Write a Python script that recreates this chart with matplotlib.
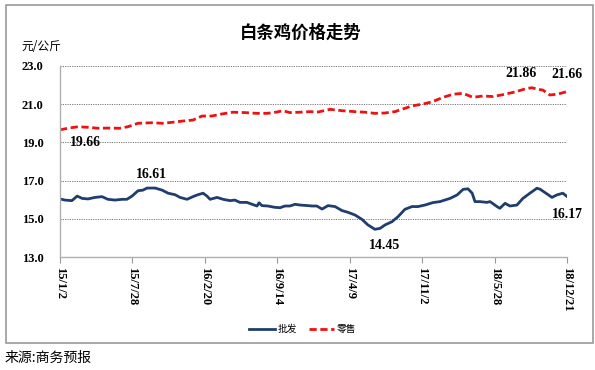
import matplotlib
matplotlib.use("Agg")
import matplotlib.pyplot as plt
import matplotlib.dates as mdates
from matplotlib.patches import Rectangle
import pandas as pd

plt = matplotlib.pyplot

# 零售 (retail)
retail_dates = [
    "2015-01-02", "2015-01-25", "2015-02-22", "2015-03-23", "2015-04-21", "2015-05-19",
    "2015-06-22", "2015-07-15", "2015-08-13", "2015-09-22", "2015-10-21", "2015-11-18",
    "2015-12-20", "2016-01-17", "2016-02-12", "2016-03-11", "2016-04-09", "2016-05-10",
    "2016-06-14", "2016-07-18", "2016-08-16", "2016-09-13", "2016-09-30", "2016-10-20",
    "2016-11-18", "2016-12-17", "2017-01-08", "2017-02-12", "2017-03-18", "2017-04-24",
    "2017-05-23", "2017-06-20", "2017-07-19", "2017-08-16", "2017-09-05", "2017-10-04",
    "2017-11-02", "2017-11-30", "2018-01-01", "2018-01-29", "2018-02-27", "2018-03-27",
    "2018-04-25", "2018-05-24", "2018-06-21", "2018-07-25", "2018-08-29", "2018-09-12",
    "2018-09-29", "2018-10-13", "2018-11-02", "2018-11-25", "2018-12-21",
]
retail = [
    19.66, 19.74, 19.82, 19.79, 19.74, 19.75,
    19.74, 19.82, 20.00, 20.03, 20.00, 20.05,
    20.12, 20.17, 20.38, 20.38, 20.49, 20.58,
    20.56, 20.52, 20.52, 20.59, 20.66, 20.56,
    20.58, 20.61, 20.59, 20.73, 20.66, 20.61,
    20.58, 20.52, 20.54, 20.61, 20.73, 20.91,
    21.00, 21.12, 21.36, 21.52, 21.57, 21.36,
    21.43, 21.40, 21.50, 21.64, 21.83, 21.86,
    21.78, 21.74, 21.48, 21.53, 21.66,
]

# 批发 (wholesale)
wholesale_dates = [
    "2015-01-02", "2015-01-16", "2015-02-05", "2015-02-20", "2015-03-06", "2015-03-23",
    "2015-04-12", "2015-05-02", "2015-05-19", "2015-06-08", "2015-06-28", "2015-07-12",
    "2015-07-27", "2015-08-13", "2015-08-27", "2015-09-08", "2015-10-01", "2015-10-21",
    "2015-11-07", "2015-11-27", "2015-12-11", "2015-12-31", "2016-01-17", "2016-01-31",
    "2016-02-15", "2016-02-26", "2016-03-06", "2016-03-26", "2016-04-12", "2016-05-02",
    "2016-05-16", "2016-05-30", "2016-06-19", "2016-07-04", "2016-07-18", "2016-07-24",
    "2016-08-01", "2016-08-18", "2016-09-07", "2016-09-22", "2016-10-06", "2016-10-20",
    "2016-11-04", "2016-11-18", "2016-12-11", "2016-12-22", "2017-01-05", "2017-01-20",
    "2017-02-06", "2017-02-26", "2017-03-18", "2017-04-04", "2017-04-24", "2017-05-14",
    "2017-05-31", "2017-06-20", "2017-07-05", "2017-07-19", "2017-08-08", "2017-08-25",
    "2017-09-14", "2017-10-04", "2017-10-21", "2017-11-10", "2017-12-03", "2017-12-23",
    "2018-01-21", "2018-02-10", "2018-02-27", "2018-03-13", "2018-03-25", "2018-04-02",
    "2018-04-16", "2018-05-06", "2018-05-15", "2018-06-04", "2018-06-12", "2018-06-27",
    "2018-07-11", "2018-07-31", "2018-08-17", "2018-09-06", "2018-09-26", "2018-10-05",
    "2018-10-25", "2018-11-08", "2018-11-22", "2018-12-09", "2018-12-21",
]
wholesale = [
    16.04, 15.98, 15.95, 16.19, 16.07, 16.04,
    16.12, 16.16, 16.02, 15.98, 16.02, 16.02,
    16.19, 16.47, 16.50, 16.61, 16.61, 16.50,
    16.34, 16.26, 16.12, 16.02, 16.16, 16.26,
    16.34, 16.19, 16.02, 16.12, 16.02, 15.95,
    15.98, 15.86, 15.86, 15.76, 15.67, 15.84,
    15.69, 15.67, 15.60, 15.58, 15.67, 15.67,
    15.76, 15.72, 15.69, 15.67, 15.67, 15.51,
    15.69, 15.64, 15.43, 15.34, 15.20, 14.97,
    14.68, 14.45, 14.50, 14.68, 14.85, 15.11,
    15.50, 15.64, 15.64, 15.72, 15.85, 15.90,
    16.07, 16.25, 16.54, 16.57, 16.34, 15.90,
    15.90, 15.86, 15.90, 15.64, 15.55, 15.81,
    15.67, 15.72, 16.07, 16.34, 16.60, 16.55,
    16.30, 16.12, 16.25, 16.34, 16.17,
]

tick_dates = ["2015-01-02", "2015-07-28", "2016-02-20", "2016-09-14",
              "2017-04-09", "2017-11-02", "2018-05-28", "2018-12-21"]
tick_labels = ["15/1/2", "15/7/28", "16/2/20", "16/9/14",
               "17/4/9", "17/11/2", "18/5/28", "18/12/21"]
y_ticks = [13.0, 15.0, 17.0, 19.0, 21.0, 23.0]

# (date, value, label) callouts
callouts = [
    ("2015-01-02", 19.66, "19.66"),
    ("2015-09-20", 16.61, "16.61"),
    ("2017-06-20", 14.45, "14.45"),
    ("2018-12-21", 16.17, "16.17"),
    ("2018-09-12", 21.86, "21.86"),
    ("2018-12-21", 21.66, "21.66"),
]

CJK = ["Noto Sans CJK SC", "DejaVu Sans"]
SERIF = "Liberation Serif"
BLUE = "#1f3d6e"
RED = "#ee1111"

W, H = 595, 370
fig = plt.figure(figsize=(W / 100, H / 100), dpi=100)
ax = fig.add_axes([60 / W, 1 - 257 / H, (567 - 60) / W, (257 - 66) / H])

rd = pd.to_datetime(retail_dates)
wd = pd.to_datetime(wholesale_dates)
ax.plot(wd, wholesale, color=BLUE, lw=2.0, label="批发", solid_joinstyle="round")
ax.plot(rd, retail, color=RED, lw=2.0, dashes=(2.6, 1.3), label="零售")

ax.set_ylim(13, 23)
ax.set_xlim(pd.Timestamp(tick_dates[0]), pd.Timestamp(tick_dates[-1]))
ax.set_yticks(y_ticks)
ax.set_yticklabels(["%.1f" % v for v in y_ticks], fontfamily=SERIF,
                   fontweight="bold", fontsize=9)
ax.set_xticks(pd.to_datetime(tick_dates))
ax.set_xticklabels(tick_labels, rotation=-90, fontfamily=SERIF,
                   fontweight="bold", fontsize=9, va="top", ha="center")
ax.tick_params(axis="y", length=0, pad=12)
ax.tick_params(axis="x", length=4, color="#999999", pad=3)

for v in y_ticks[1:]:
    ax.axhline(v, color="#777777", lw=0.7, ls=(0, (1.2, 1.2)), zorder=0)

for s in ("top", "right"):
    ax.spines[s].set_visible(False)
for s in ("left", "bottom"):
    ax.spines[s].set_color("#b0b0b0")
    ax.spines[s].set_linewidth(1.0)

offsets = {"19.66": (18, -9), "16.61": (0, 10), "14.45": (7, -12),
           "16.17": (0, -13), "21.86": (-8, 10), "21.66": (0, 12)}
for d, v, lab in callouts:
    dx, dy = offsets[lab]
    ax.annotate(lab, (pd.Timestamp(d), v), xytext=(dx, dy), textcoords="offset points",
                ha="center", va="center", fontfamily=SERIF, fontweight="bold",
                fontsize=10, annotation_clip=False)

fig.text(301 / W, 1 - 33 / H, "白条鸡价格走势", ha="center", va="center",
         family=CJK, fontweight="bold", fontsize=12.5)
fig.text(21 / W, 1 - 46 / H, "元/公斤", ha="left", va="center",
         family=CJK, fontsize=8.5)

leg = ax.legend(loc="center", bbox_to_anchor=(303 / W, 1 - 329 / H),
                bbox_transform=fig.transFigure, ncol=2, frameon=False,
                prop={"family": CJK, "size": 7}, handlelength=2.6,
                columnspacing=1.2, handletextpad=0.3)

fig.patches.append(Rectangle((6 / W, 1 - 343 / H), (593 - 6) / W, (343 - 5) / H,
                             transform=fig.transFigure, fill=False,
                             edgecolor="#999999", lw=1.2))
fig.text(5 / W, 1 - 358 / H, "来源:商务预报", ha="left", va="center",
         family=CJK, fontsize=10, fontweight="light")

fig.savefig("out.png", dpi=100)
